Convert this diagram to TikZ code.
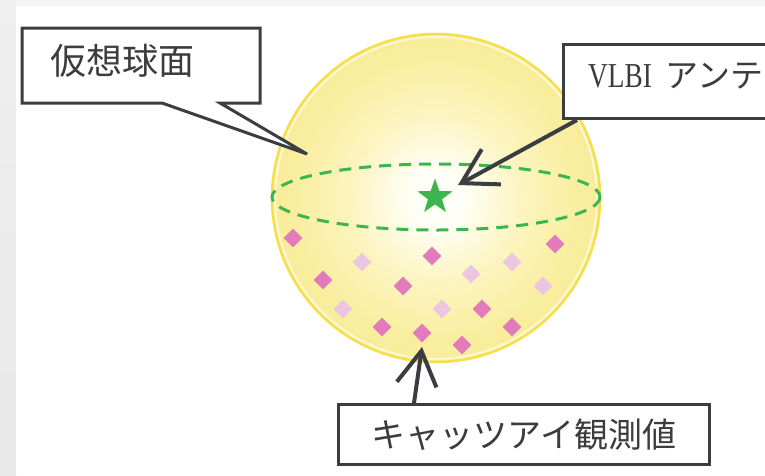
\documentclass[tikz,border=0pt]{standalone}
\usepackage{graphicx}
\usepackage{fontspec}
\newfontfamily\jpfont{Noto Sans CJK JP}
\newfontfamily\latinfont{Liberation Serif}
\usetikzlibrary{arrows.meta,shapes.geometric}

\definecolor{pagegray}{HTML}{F5F5F5}
\definecolor{stripgray}{HTML}{E8E8E8}
\definecolor{inkgray}{HTML}{3A3D42}
\definecolor{textgray}{HTML}{3C3C3C}
\definecolor{rimyellow}{HTML}{F5DF4A}
\definecolor{ballcore}{HTML}{FFFFF8}
\definecolor{ballinner}{HTML}{FCF4C0}
\definecolor{ballmid}{HTML}{F9EE9E}
\definecolor{ballouter}{HTML}{F7E98C}
\definecolor{balledge}{HTML}{F6E47C}
\definecolor{markgreen}{HTML}{3DB54F}
\definecolor{pinkdark}{HTML}{E27ABB}
\definecolor{pinklight}{HTML}{ECC6E0}

% soft glow of the sphere, brightest around the antenna
\pgfdeclareradialshading{ballglow}{\pgfpoint{0bp}{0bp}}{%
  color(0bp)=(ballcore); color(4bp)=(ballcore);
  color(13bp)=(ballinner); color(22bp)=(ballmid);
  color(38bp)=(ballouter); color(50bp)=(balledge)}

\tikzset{
  boxline/.style={draw=inkgray, line width=3pt, fill=white},
  pointer/.style={draw=inkgray, line width=4pt,
    -{Straight Barb[length=34pt, width=40pt, line width=4pt]}},
  label/.style={text=textgray, inner sep=0pt},
  obsdark/.style={diamond, fill=pinkdark, minimum size=19pt, inner sep=0pt},
  obslight/.style={diamond, fill=pinklight, minimum size=19pt, inner sep=0pt},
}

\begin{document}
\begin{tikzpicture}[x=1pt, y=-1pt]
  \useasboundingbox (0,0) rectangle (765,475);
  \clip (0,0) rectangle (765,475);

  % page background
  \fill[pagegray] (0,0) rectangle (765,475);
  \shade[top color=stripgray!70!white, bottom color=stripgray] (0,0) rectangle (16,475);
  \fill[white] (16,7) rectangle (765,475);

  % imaginary sphere
  \path[shading=ballglow] (436,198) circle [radius=164];
  \draw[white, opacity=0.6, line width=2pt] (436,198) circle [radius=161];
  \draw[rimyellow, line width=2.5pt] (436,198) circle [radius=164];

  % equator
  \draw[markgreen, line width=3pt, dash pattern=on 12pt off 8pt]
    (436,197) ellipse [x radius=164, y radius=33];

  % antenna position
  \node[star, star points=5, star point ratio=2.5, minimum size=37pt,
        fill=markgreen, inner sep=0pt] (antenna) at (435,197) {};

  % cat's eye observations
  \node[obsdark] (o1) at (293,238) {};
  \node[obsdark] (o2) at (432,256) {};
  \node[obsdark] (o3) at (555,244) {};
  \node[obsdark] (o4) at (323,280) {};
  \node[obsdark] (o5) at (403,286) {};
  \node[obsdark] (o6) at (482,309) {};
  \node[obsdark] (o7) at (382,327) {};
  \node[obsdark] (o8) at (422,333) {};
  \node[obsdark] (o9) at (462,345) {};
  \node[obsdark] (o10) at (512,327) {};
  \node[obslight] (l1) at (362,262) {};
  \node[obslight] (l2) at (471,274) {};
  \node[obslight] (l3) at (512,262) {};
  \node[obslight] (l4) at (543,286) {};
  \node[obslight] (l5) at (343,309) {};
  \node[obslight] (l6) at (442,309) {};

  % callout: imaginary sphere
  \coordinate (sphTip) at (307,154);
  \draw[boxline, line join=miter]
    (22,28) -- (260,28) -- (260,103) -- (220,103) -- (sphTip)
    -- (162,103) -- (22,103) -- cycle;
  \node[label, anchor=west] (sphText) at (50,61)
    {\jpfont\fontsize{36}{40}\selectfont 仮想球面};

  % box: VLBI antenna
  \node[boxline, anchor=north west, minimum width=260pt, minimum height=74pt,
        inner sep=0pt] (antBox) at (562,43) {};
  \node[label, anchor=west] (antText) at (588,76)
    {\scalebox{0.78}[1]{\latinfont\fontsize{35}{40}\selectfont VLBI}\hspace{14pt}%
     \jpfont\fontsize{33}{38}\selectfont アンテナ};
  \coordinate (antTip) at (458,185);
  \draw[pointer] ([xshift=15pt]antBox.south west) -- (antTip);

  % box: cat's eye observations
  \node[boxline, anchor=north west, minimum width=371pt, minimum height=60pt,
        inner sep=0pt] (obsBox) at (337,403) {};
  \node[label] (obsText) at (obsBox.center)
    {\jpfont\fontsize{34}{38}\selectfont キャッツアイ観測値};
  \coordinate (obsTip) at (422,347);
  \draw[pointer] ([xshift=77pt]obsBox.north west) -- (obsTip);
\end{tikzpicture}
\end{document}
